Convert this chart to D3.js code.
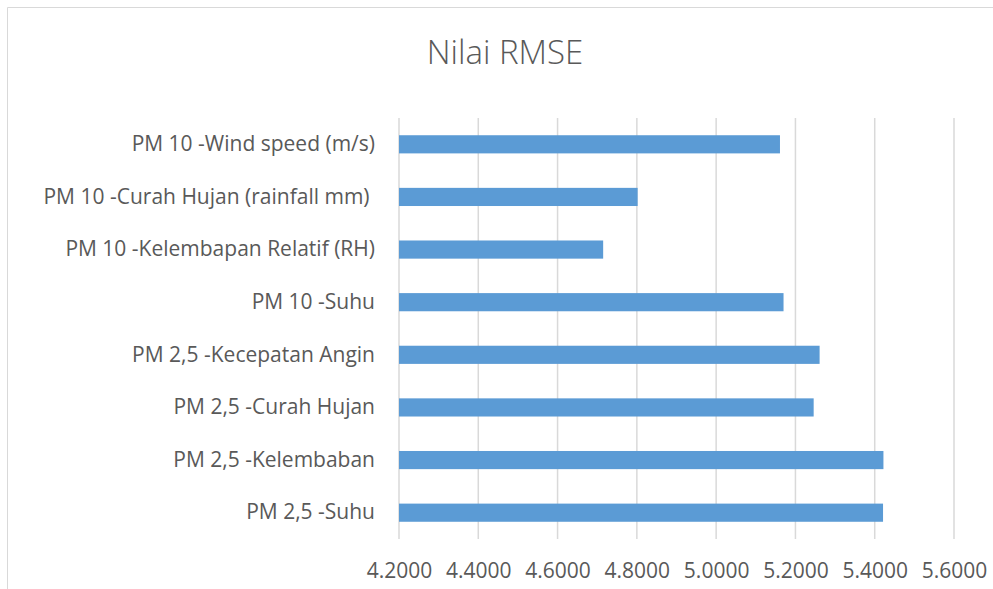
<!DOCTYPE html>
<html>
<head>
<meta charset="utf-8">
<script src="https://cdn.jsdelivr.net/npm/d3@7"></script>
<style>
  body { margin: 0; background: #fff; }
  text { font-family: "Open Sans", "Noto Sans", sans-serif; fill: #595959; }
</style>
</head>
<body>
<svg id="chart" width="993" height="589"></svg>
<script>
const categories = [
  "PM 10 -Wind speed (m/s)",
  "PM 10 -Curah Hujan (rainfall mm) ",
  "PM 10 -Kelembapan Relatif (RH)",
  "PM 10 -Suhu",
  "PM 2,5 -Kecepatan Angin",
  "PM 2,5 -Curah Hujan",
  "PM 2,5 -Kelembaban",
  "PM 2,5 -Suhu"
];
const rmse = [5.161, 4.802, 4.715, 5.170, 5.261, 5.246, 5.422, 5.421];
const ticks = [4.2, 4.4, 4.6, 4.8, 5.0, 5.2, 5.4, 5.6];

const svg = d3.select("#chart"),
    width = +svg.attr("width"),
    height = +svg.attr("height");

const margin = {top: 118, right: 39, bottom: 50, left: 399};

// chart frame
svg.append("path")
    .attr("d", `M7.5,${height} V7.5 H${width}`)
    .attr("fill", "none")
    .attr("stroke", "#d9d9d9")
    .attr("stroke-width", 1);

svg.append("text")
    .attr("x", 505)
    .attr("y", 64)
    .attr("text-anchor", "middle")
    .style("font-size", "33px")
    .style("font-weight", 300)
    .text("Nilai RMSE");

const x = d3.scaleLinear()
    .domain([4.2, 5.6])
    .range([margin.left, width - margin.right]);

const y = d3.scaleBand()
    .domain(categories)
    .range([margin.top, 539])
    .paddingInner(0.655)
    .paddingOuter(0.655 / 2);

// gridlines
svg.append("g")
    .attr("class", "grid")
  .selectAll("line")
  .data(ticks)
  .join("line")
    .attr("x1", d => x(d))
    .attr("x2", d => x(d))
    .attr("y1", margin.top)
    .attr("y2", 539)
    .attr("stroke", "#d9d9d9")
    .attr("stroke-width", 1.5);

// bars
svg.append("g")
  .selectAll("rect")
  .data(rmse)
  .join("rect")
    .attr("x", x(4.2))
    .attr("y", (d, i) => y(categories[i]))
    .attr("width", d => x(d) - x(4.2))
    .attr("height", y.bandwidth())
    .attr("fill", "#5b9bd5");

// x axis labels
const xAxis = d3.axisBottom(x)
    .tickValues(ticks)
    .tickFormat(d3.format(".4f"))
    .tickSize(0)
    .tickPadding(24);

const gx = svg.append("g")
    .attr("transform", `translate(0,539)`)
    .call(xAxis);
gx.select(".domain").remove();
gx.selectAll("text")
    .style("font-size", "21px")
    .attr("fill", "#595959");

// category labels
const yAxis = d3.axisLeft(y).tickSize(0).tickPadding(24);
const gy = svg.append("g")
    .attr("transform", `translate(${margin.left},0)`)
    .call(yAxis);
gy.select(".domain").remove();
gy.selectAll("text")
    .style("font-size", "21px")
    .style("white-space", "pre")
    .attr("fill", "#595959");
</script>
</body>
</html>
